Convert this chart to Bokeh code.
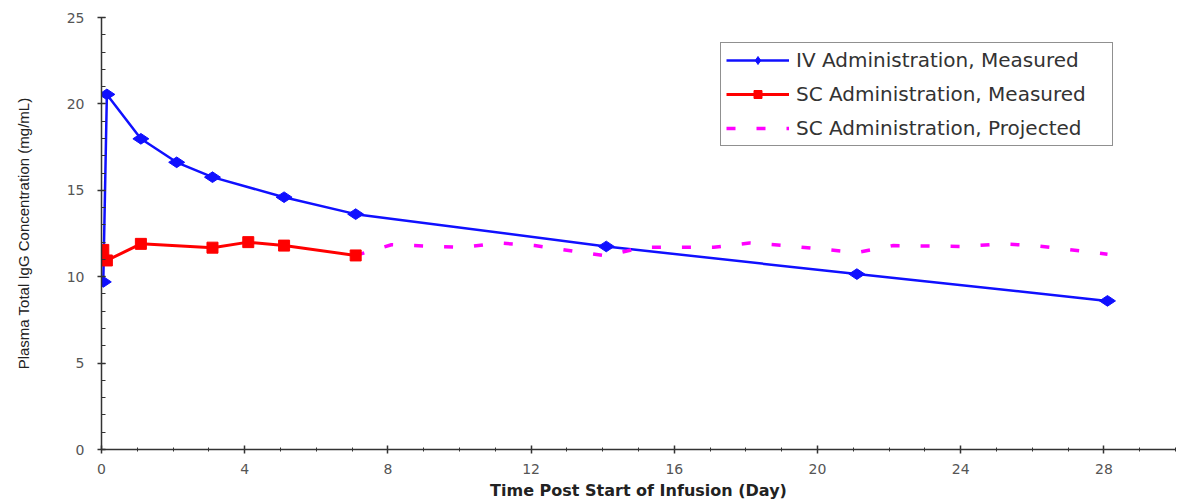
from bokeh.plotting import figure
from bokeh.models import Range1d, SingleIntervalTicker, Legend, LegendItem
from bokeh.embed import file_html
from bokeh.resources import INLINE
import math

# ---- data ----
iv_days = [0.05, 0.15, 1.1, 2.1, 3.1, 5.1, 7.1, 14.1, 21.1, 28.1]
iv_conc = [9.7, 20.55, 17.98, 16.62, 15.76, 14.6, 13.62, 11.75, 10.15, 8.6]

sc_days = [0.05, 0.15, 1.1, 3.1, 4.1, 5.1, 7.1]
sc_conc = [11.55, 10.94, 11.9, 11.68, 12.0, 11.8, 11.23]

proj_days = [7.1, 8.1, 10.1, 11.1, 12.1, 14.1, 15.1, 17.1, 18.1, 19.1,
             21.1, 22.1, 24.1, 25.1, 26.1, 28.1]
proj_conc = [11.23, 11.85, 11.7, 11.95, 11.8, 11.2, 11.7, 11.7, 11.95, 11.8,
             11.4, 11.8, 11.75, 11.9, 11.8, 11.3]

x_label = "Time Post Start of Infusion (Day)"
y_label = "Plasma Total IgG Concentration (mg/mL)"
iv_name = "IV Administration, Measured"
sc_name = "SC Administration, Measured"
proj_name = "SC Administration, Projected"

p = figure(width=1177, height=502, output_backend="svg", toolbar_location=None,
           x_range=Range1d(0, 30), y_range=Range1d(0, 25),
           min_border_left=101, min_border_right=2, min_border_top=17,
           min_border_bottom=53)
p.outline_line_color = None
p.xgrid.visible = False
p.ygrid.visible = False
p.background_fill_color = "white"
p.border_fill_color = "white"

# axes
p.xaxis.ticker = SingleIntervalTicker(interval=4, num_minor_ticks=4)
p.yaxis.ticker = SingleIntervalTicker(interval=5, num_minor_ticks=5)
for ax in (p.xaxis, p.yaxis):
    ax.axis_line_color = "#333333"
    ax.axis_line_width = 1.5
    ax.major_tick_line_color = "#333333"
    ax.minor_tick_line_color = "#333333"
    ax.major_tick_line_width = 1.5
    ax.major_label_text_font = "DejaVu Sans"
    ax.major_label_text_font_size = "14px"
    ax.major_label_text_color = "#555555"
    ax.major_tick_in = 4
    ax.major_tick_out = 4

p.xaxis.minor_tick_in = 2
p.xaxis.minor_tick_out = 2
p.yaxis.minor_tick_in = 4
p.yaxis.minor_tick_out = 0
p.xaxis.major_label_standoff = 10
p.yaxis.major_label_standoff = 13

p.xaxis.axis_label = x_label
p.xaxis.axis_label_text_font = "DejaVu Sans"
p.xaxis.axis_label_text_font_style = "bold"
p.xaxis.axis_label_text_font_size = "16px"
p.xaxis.axis_label_text_color = "#222222"
p.xaxis.axis_label_standoff = 4

p.yaxis.axis_label = y_label
p.yaxis.axis_label_text_font = "Liberation Sans"
p.yaxis.axis_label_text_font_style = "normal"
p.yaxis.axis_label_text_font_size = "15px"
p.yaxis.axis_label_text_color = "#222222"
p.yaxis.axis_label_standoff = 32

# series
iv_line = p.line(iv_days, iv_conc, line_color="#1010ff", line_width=2.5)
iv_pts = p.scatter(iv_days, iv_conc, marker="diamond", angle=math.pi / 2, size=16,
                   fill_color="#1010ff", line_color="#1010ff")

proj_line = p.line(proj_days, proj_conc, line_color="#ff00ff", line_width=3.5,
                   line_dash="9 21")

sc_line = p.line(sc_days, sc_conc, line_color="#ff0000", line_width=3)
sc_pts = p.scatter(sc_days, sc_conc, marker="square", size=11,
                   fill_color="#ff0000", line_color="#ff0000")

legend = Legend(
    items=[
        LegendItem(label=iv_name, renderers=[iv_line, iv_pts]),
        LegendItem(label=sc_name, renderers=[sc_line, sc_pts]),
        LegendItem(label=proj_name, renderers=[proj_line]),
    ],
    location=(619, 303),
    orientation="vertical",
    border_line_color="#222222",
    border_line_width=1.5,
    background_fill_color="white",
    background_fill_alpha=1.0,
    padding=5,
    spacing=10,
    margin=0,
    glyph_width=63,
    glyph_height=20,
    label_height=20,
    label_width=311,
    label_standoff=7,
    label_text_font="DejaVu Sans",
    label_text_font_size="20px",
    label_text_color="#333333",
)
p.add_layout(legend)

open("out.html", "w").write(file_html(p, INLINE))
